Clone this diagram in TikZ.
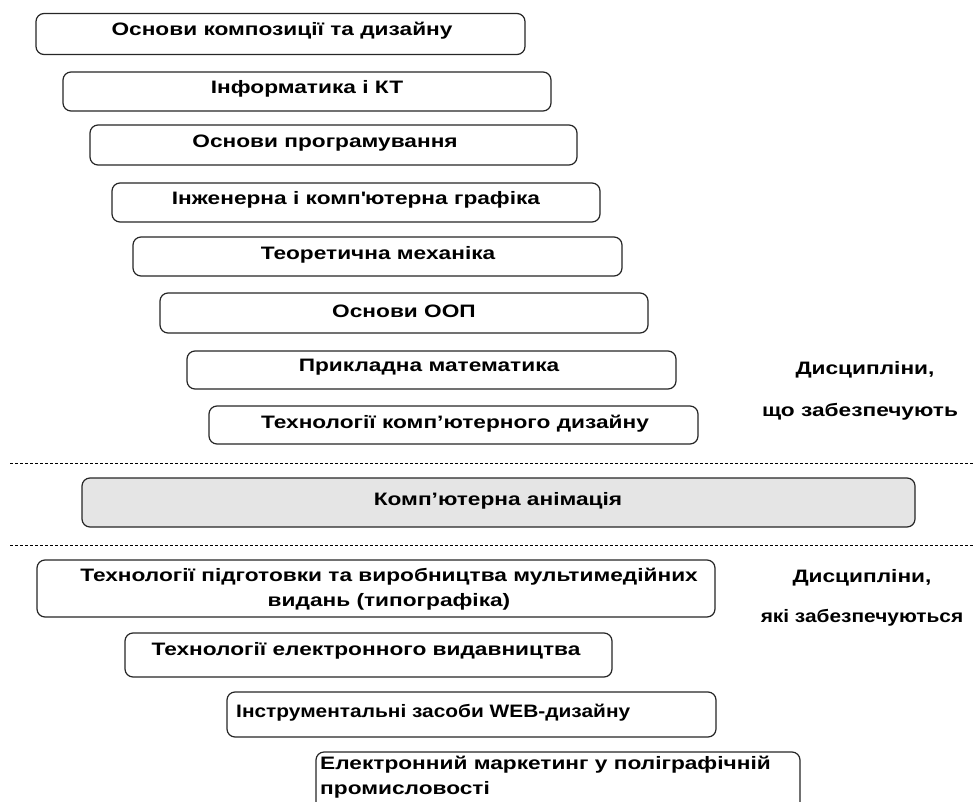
\documentclass[tikz,border=0pt]{standalone}
\usepackage{fontspec}
\setmainfont{Liberation Sans}[FakeStretch=1.26]
\newfontfamily\narrowfont{Liberation Sans}[FakeStretch=1.16]
\begin{document}
\begin{tikzpicture}[x=1pt,y=-1pt,
  box/.style={draw=black!85, line width=1.2pt, rounded corners=8pt, inner sep=0pt, fill=white},
  lbl/.style={font=\fontsize{18}{24.5}\selectfont\bfseries, inner sep=0pt},
  side/.style={font=\fontsize{18}{24}\selectfont\bfseries, inner sep=0pt},
  sep/.style={draw=black, line width=0.8pt, dash pattern=on 3pt off 2pt}]
\useasboundingbox (0,0) rectangle (976,802);
\clip (0,0) rectangle (976,802);
% upper boxes
\node[box, minimum width=489pt, minimum height=41pt] (b1) at (280.5,34) {};
\node[lbl] (t1) at (282,31) {Основи композиції та дизайну};
\node[box, minimum width=488pt, minimum height=39pt] (b2) at (307,91.5) {};
\node[lbl] (t2) at (307,89) {Інформатика і КТ};
\node[box, minimum width=487pt, minimum height=40pt] (b3) at (333.5,145) {};
\node[lbl] (t3) at (325,143) {Основи програмування};
\node[box, minimum width=488pt, minimum height=39pt] (b4) at (356,202.5) {};
\node[lbl] (t4) at (356,200) {Інженерна і комп\textquotesingle ютерна графіка};
\node[box, minimum width=489pt, minimum height=39pt] (b5) at (377.5,256.5) {};
\node[lbl] (t5) at (378,255) {Теоретична механіка};
\node[box, minimum width=488pt, minimum height=40pt] (b6) at (404,313) {};
\node[lbl] (t6) at (404,311) {Основи ООП};
\node[box, minimum width=489pt, minimum height=38pt] (b7) at (431.5,370) {};
\node[lbl] (t7) at (429,367) {Прикладна математика};
\node[box, minimum width=489pt, minimum height=38pt] (b8) at (453.5,425) {};
\node[lbl] (t8) at (455,424) {Технології комп’ютерного дизайну};
% right labels top
\node[side] (s1) at (865,370) {Дисципліни,};
\node[side] (s2) at (860,412) {що забезпечують};
% separators
\coordinate (d1a) at (10,463); \coordinate (d1b) at (974,463);
\draw[sep] (d1a) -- (d1b);
\node[box, fill=black!10, minimum width=833pt, minimum height=49pt] (ca) at (498.5,502.5) {};
\node[lbl] (tca) at (498,501) {Комп’ютерна анімація};
\coordinate (d2a) at (10,545); \coordinate (d2b) at (974,545);
\draw[sep] (d2a) -- (d2b);
% lower boxes
\node[box, minimum width=678pt, minimum height=57pt] (b9) at (376,588.5) {};
\node[lbl, align=center] (t9) at (389,589) {Технології підготовки та виробництва мультимедійних\\видань (типографіка)};
\node[box, minimum width=487pt, minimum height=44pt] (b10) at (368.5,655) {};
\node[lbl] (t10) at (366,651) {Технології електронного видавництва};
\node[box, minimum width=489pt, minimum height=45pt] (b11) at (471.5,714.5) {};
\node[lbl, anchor=west, font=\fontsize{18}{24}\selectfont\bfseries\narrowfont] (t11) at (236,713) {Інструментальні засоби WEB-дизайну};
\node[box, minimum width=484pt, minimum height=60pt] (b12) at (558,782) {};
\node[lbl, anchor=north west, align=left] (t12) at (320,756) {Електронний маркетинг у поліграфічній\\промисловості};
% right labels bottom
\node[side] (s3) at (862,578) {Дисципліни,};
\node[side, font=\fontsize{18}{24}\selectfont\bfseries\narrowfont] (s4) at (862,618) {які забезпечуються};
\end{tikzpicture}
\end{document}
